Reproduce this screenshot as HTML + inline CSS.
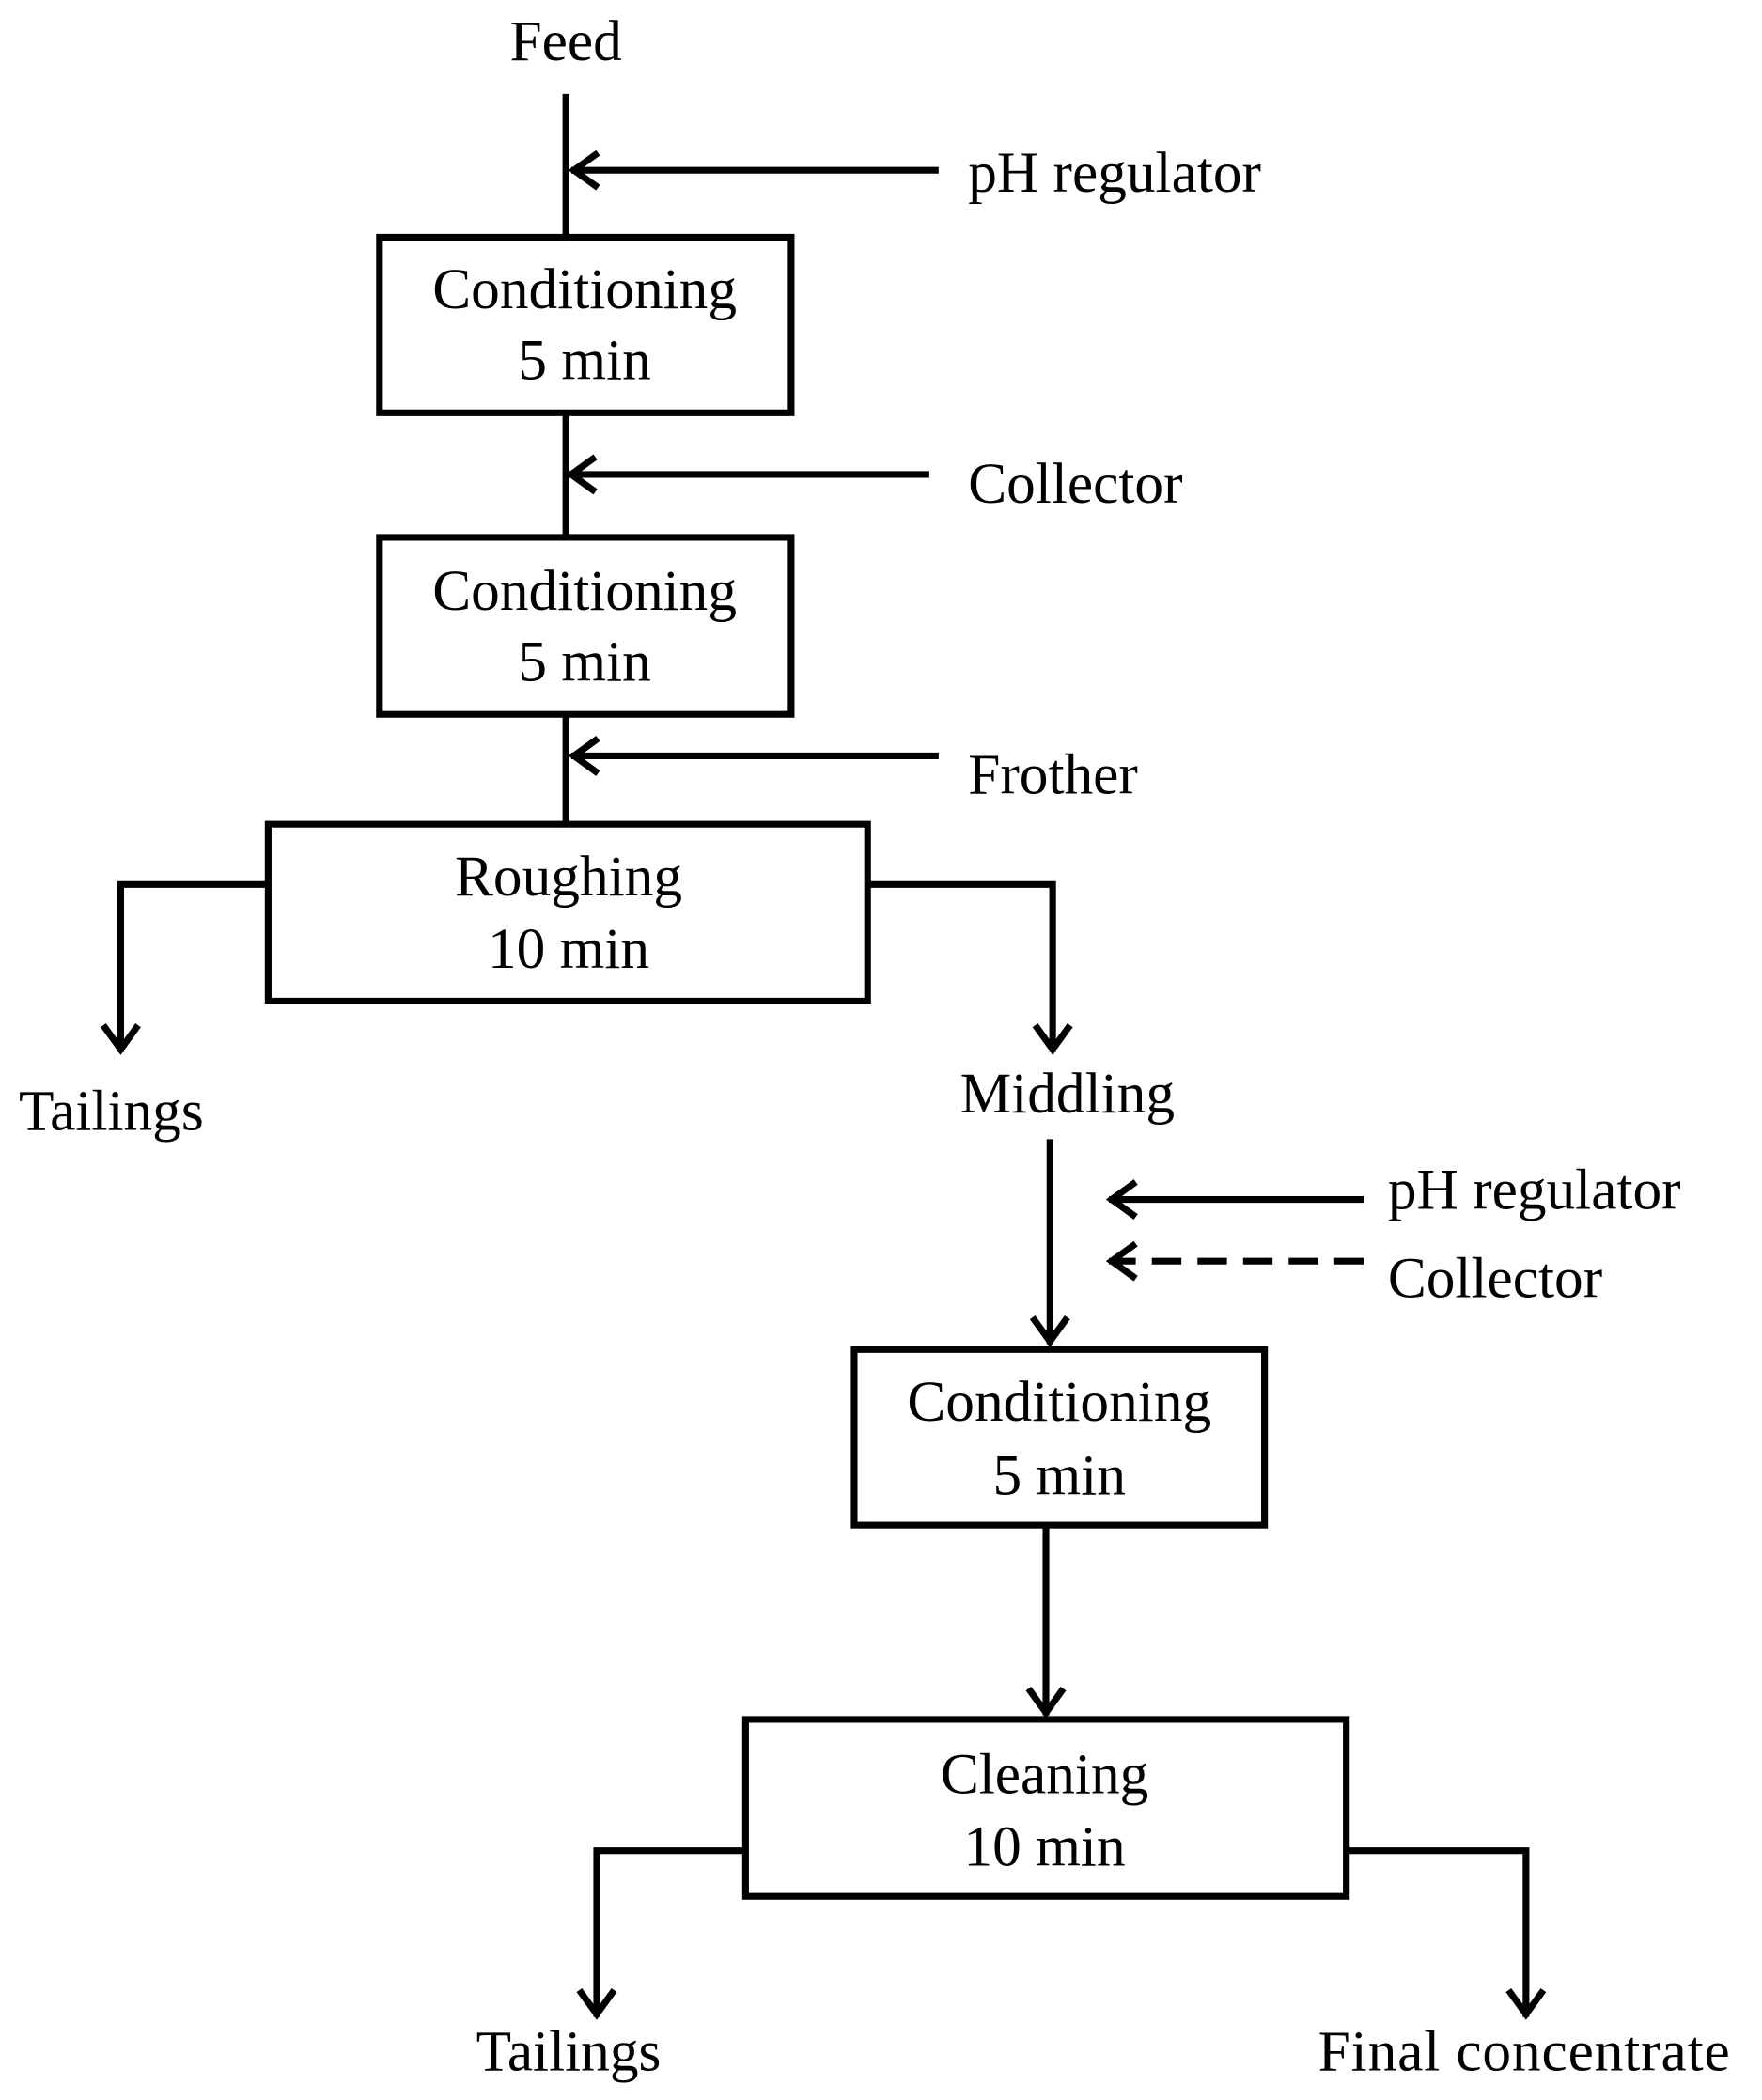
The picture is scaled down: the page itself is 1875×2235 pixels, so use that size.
<!DOCTYPE html>
<html><head><meta charset="utf-8"><style>
html,body{margin:0;padding:0;background:#fff;}
svg{display:block;}
text{font-family:"Liberation Serif",serif;font-size:43px;fill:#000;}
</style></head><body>
<svg width="1875" height="2235" viewBox="0 0 1314 1567" preserveAspectRatio="none" xmlns="http://www.w3.org/2000/svg">
<g stroke="#000" stroke-width="5" fill="none" stroke-linecap="butt">
<line x1="422" y1="70" x2="422" y2="177"/>
<line x1="700" y1="127" x2="426" y2="127"/>
<polyline points="446,114 428,127 446,140"/>
<rect x="283" y="177" width="307" height="131"/>
<line x1="422" y1="308" x2="422" y2="401"/>
<line x1="693" y1="354" x2="424" y2="354"/>
<polyline points="444,341 426,354 444,367"/>
<rect x="283" y="401" width="307" height="132"/>
<line x1="422" y1="533" x2="422" y2="615"/>
<line x1="700" y1="564" x2="426" y2="564"/>
<polyline points="446,551 428,564 446,577"/>
<rect x="200" y="615" width="447" height="132"/>
<polyline points="200,660 90,660 90,785"/>
<polyline points="77,765 90,783 103,765"/>
<polyline points="647,660 785,660 785,785"/>
<polyline points="772,765 785,783 798,765"/>
<line x1="783" y1="850" x2="783" y2="1003"/>
<polyline points="770,983 783,1001 796,983"/>
<line x1="1017" y1="895" x2="827" y2="895"/>
<polyline points="847,882 829,895 847,908"/>
<line x1="1017" y1="941" x2="827" y2="941" stroke-dasharray="22,12"/>
<polyline points="847,928 829,941 847,954"/>
<rect x="637" y="1007" width="306" height="131"/>
<line x1="780" y1="1138" x2="780" y2="1280"/>
<polyline points="767,1260 780,1278 793,1260"/>
<rect x="556" y="1283" width="448" height="132"/>
<polyline points="556,1381 445,1381 445,1505"/>
<polyline points="432,1485 445,1503 458,1485"/>
<polyline points="1004,1381 1138,1381 1138,1505"/>
<polyline points="1125,1485 1138,1503 1151,1485"/>
</g>
<text x="422" y="45" text-anchor="middle">Feed</text>
<text x="722" y="143">pH regulator</text>
<text x="436" y="230" text-anchor="middle">Conditioning</text>
<text x="436" y="283" text-anchor="middle">5 min</text>
<text x="722" y="375">Collector</text>
<text x="436" y="455" text-anchor="middle">Conditioning</text>
<text x="436" y="508" text-anchor="middle">5 min</text>
<text x="722" y="592">Frother</text>
<text x="424" y="668" text-anchor="middle">Roughing</text>
<text x="424" y="722" text-anchor="middle">10 min</text>
<text x="14" y="843">Tailings</text>
<text x="796" y="830" text-anchor="middle">Middling</text>
<text x="1035" y="902">pH regulator</text>
<text x="1035" y="968">Collector</text>
<text x="790" y="1060" text-anchor="middle">Conditioning</text>
<text x="790" y="1115" text-anchor="middle">5 min</text>
<text x="779" y="1338" text-anchor="middle">Cleaning</text>
<text x="779" y="1392" text-anchor="middle">10 min</text>
<text x="424" y="1545" text-anchor="middle">Tailings</text>
<text x="983" y="1545" textLength="307">Final concentrate</text>
</svg>
</body></html>
